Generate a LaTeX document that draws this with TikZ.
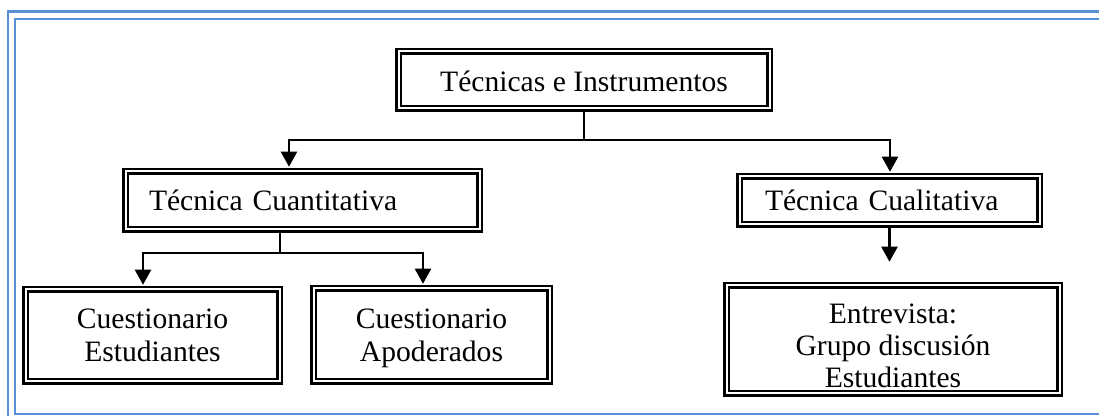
\documentclass[tikz,border=0pt]{standalone}
\usepackage{fontspec}
\setmainfont{Liberation Serif}
\usetikzlibrary{arrows.meta}
\definecolor{frameblue}{RGB}{88,143,214}

\begin{document}
\begin{tikzpicture}[x=0.5pt,y=0.5pt,yscale=-1,xscale=1,
  tribox/.style={draw, line width=1.25pt, double, double distance=1pt, inner sep=0pt, font=\fontsize{14.8}{16.5}\selectfont},
  conn/.style={line width=1.1pt},
  arr/.style={conn, -{Triangle[width=8pt,length=7.5pt]}, shorten >=1.75pt}]
\useasboundingbox (0,0) rectangle (1099,416);

%Page border
\draw[frameblue, line width=1.3pt] (8,11.5) rectangle (1112,430);
\draw[frameblue, line width=1.3pt] (15,19) rectangle (1104,414);

%Boxes
\node[tribox, minimum width=185.5pt, minimum height=28.5pt, text height=12pt] (tec) at (584,80) {Técnicas e Instrumentos};
\node[tribox, minimum height=29pt, text width=153.5pt, inner xsep=11.75pt, align=left] (cuant) at (302.5,200.5) {Técnica Cuantitativa};
\node[tribox, minimum height=24pt, text width=124.5pt, inner xsep=12.75pt, align=left] (cual) at (889.5,200.5) {Técnica Cualitativa};
\node[tribox, minimum width=127pt, minimum height=46pt, align=center] (cest) at (152.5,335.5) {Cuestionario\\Estudiantes};
\node[tribox, minimum width=118pt, minimum height=46.5pt, align=center, text depth=0pt] (capo) at (431.5,335) {Cuestionario\\Apoderados};
\node[tribox, minimum width=166.5pt, minimum height=54pt, align=center, text height=48pt,
  font=\fontsize{14.8}{16}\selectfont] (entre) at (893,339.5) {Entrevista:\\Grupo discusión\\Estudiantes};

%Branch points
\coordinate (jq) at (289,140);
\coordinate (jl) at (890,140);
\coordinate (je) at (143,253);
\coordinate (ja) at (423,253);

%Connectors
\draw[conn] (tec.south) -- (tec.south |- jq);
\draw[arr] (tec.south |- jq) -- (jq) -- (cuant.north -| jq);
\draw[arr] (tec.south |- jl) -- (jl) -- (cual.north -| jl);
\draw[conn] ([xshift=-11.25pt]cuant.south) -- ([xshift=-11.25pt]cuant.south |- je);
\draw[arr] (ja) -- (je) -- (cest.north -| je);
\draw[arr] (je) -- (ja) -- (capo.north -| ja);
\draw[arr, shorten >=11.25pt] (cual.south) -- (entre.north -| cual.south);
\end{tikzpicture}
\end{document}
